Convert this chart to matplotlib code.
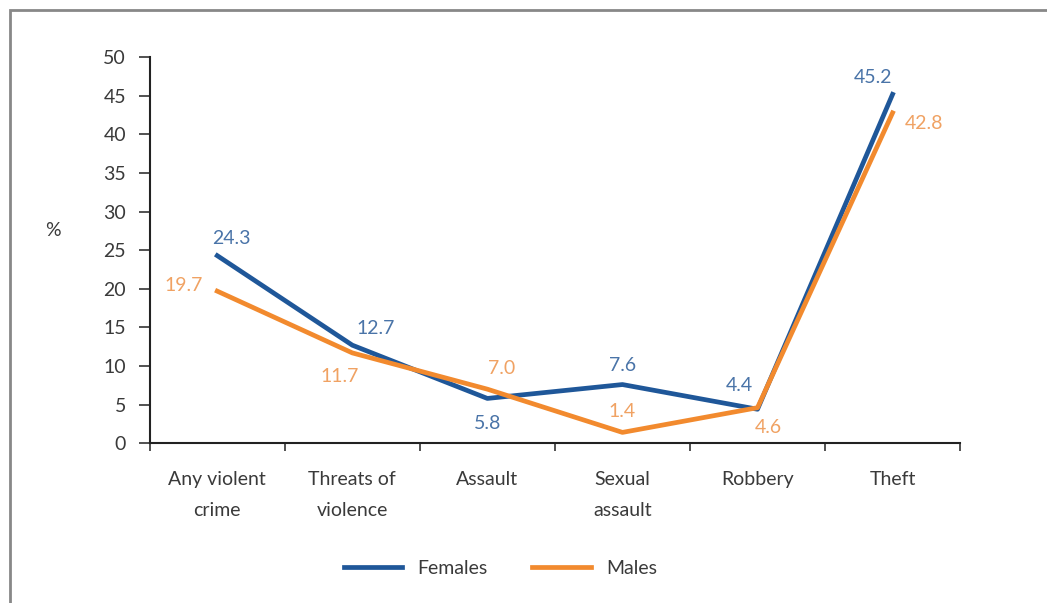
import numpy as np
import matplotlib.pyplot as plt
from matplotlib.patches import Rectangle

# data
categories = ['Any violent\ncrime', 'Threats of\nviolence', 'Assault', 'Sexual\nassault', 'Robbery', 'Theft']
females = [24.3, 12.7, 5.8, 7.6, 4.4, 45.2]
males = [19.7, 11.7, 7.0, 1.4, 4.6, 42.8]

# label offsets (points) for each value label
fem_offsets = [(10, 12), (17, 12), (0, -18), (0, 14), (-13, 17), (-14, 12)]
male_offsets = [(-24, 4), (-9, -17), (10, 15), (0, 15), (8, -14), (23, -8)]

blue = '#1f5799'
orange = '#f28a2e'
blue_txt = '#4a74a8'
orange_txt = '#f0a263'
txt = '#3a3a3a'

plt.rcParams['font.family'] = ['Lato', 'DejaVu Sans']

fig = plt.figure(figsize=(10.47, 6.03), dpi=100)
ax = fig.add_axes([0.143, 0.265, 0.774, 0.64])

x = np.arange(len(categories))
ax.plot(x, females, color=blue, lw=3.4, label='Females')
ax.plot(x, males, color=orange, lw=3.4, label='Males')

for i, v in enumerate(females):
    ax.annotate(f'{v:.1f}', (x[i], v), xytext=fem_offsets[i], textcoords='offset points',
                ha='center', va='center', color=blue_txt, fontsize=14)
for i, v in enumerate(males):
    ax.annotate(f'{v:.1f}', (x[i], v), xytext=male_offsets[i], textcoords='offset points',
                ha='center', va='center', color=orange_txt, fontsize=14)

ax.set_xlim(-0.5, len(categories) - 0.5)
ax.set_ylim(0, 50)
ax.set_yticks(np.arange(0, 51, 5))
ax.set_xticks(np.arange(-0.5, len(categories), 1))
ax.set_xticklabels([])
ax.set_xticks(x, minor=True)
ax.set_xticklabels(categories, minor=True, fontsize=14, color=txt, linespacing=2.0)
ax.tick_params(axis='x', which='minor', length=0, pad=20)
ax.tick_params(axis='x', which='major', length=6, width=1.2, direction='out', color='#333333')
ax.tick_params(axis='y', length=8, width=1.2, direction='out', pad=9, labelsize=14,
               labelcolor=txt, color='#333333')
for s in ['top', 'right']:
    ax.spines[s].set_visible(False)
for s in ['left', 'bottom']:
    ax.spines[s].set_linewidth(1.5)
    ax.spines[s].set_color('#222222')

ax.set_ylabel('%', rotation=0, fontsize=14, color=txt)
ax.yaxis.set_label_coords(-0.12, 0.53)

fig.legend(loc='center', bbox_to_anchor=(0.478, 0.057), ncol=2, frameon=False,
           fontsize=14, handlelength=3.0, columnspacing=2.3, labelcolor=txt)

# grey outer frame
fig.patches.append(Rectangle((10 / 1047, -0.1), 1.2, 1 - 10 / 603 + 0.1, transform=fig.transFigure,
                             fill=False, edgecolor='#888888', lw=2))

fig.savefig('out.png', dpi=100)
